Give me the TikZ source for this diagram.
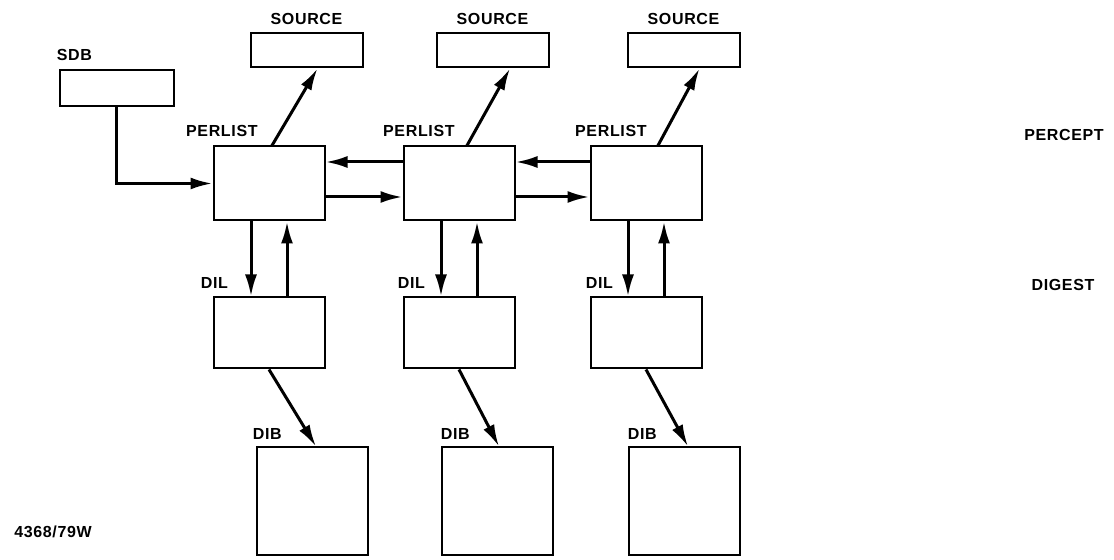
\documentclass[tikz,border=0pt]{standalone}
\usepackage{fontspec}
\setmainfont{Liberation Sans}[LetterSpace=4]
\usetikzlibrary{arrows.meta, positioning}
\tikzset{
  box/.style={rectangle, draw, line width=1pt, inner sep=0pt,
              minimum width=55.5pt, minimum height=37pt},
  srcbox/.style={box, minimum width=56pt, minimum height=17pt},
  dilbox/.style={box, minimum height=35.5pt},
  dibbox/.style={box, minimum width=55.5pt, minimum height=54pt},
  arrow/.style={-{Latex[length=11pt,width=6pt]}, line width=1.5pt},
  lbl/.style={inner sep=0pt, font=\fontsize{8}{9}\selectfont\bfseries},
}

\begin{document}
\begin{tikzpicture}[x=0.5pt, y=-0.5pt]
  \useasboundingbox (0,0) rectangle (1114,560);
  % percept row
  \node[box] (per1) at (269,183.5) {};
  \node[box, right=38.5pt of per1] (per2) {};
  \node[box, right=37pt of per2] (per3) {};
  \node[box, minimum height=18pt, minimum width=57pt] (sdb) at (116.5,88.5) {};
  \node[srcbox, above right=38.5pt and 18.5pt of per1.north west] (src1) {};
  \node[srcbox, above right=38.5pt and 16.5pt of per2.north west] (src2) {};
  \node[srcbox, above right=38.5pt and 18.5pt of per3.north west] (src3) {};
  % digest row
  \node[dilbox, below=37.5pt of per1] (dil1) {};
  \node[dilbox, below=37.5pt of per2] (dil2) {};
  \node[dilbox, below=37.5pt of per3] (dil3) {};
  \node[dibbox, below right=38.5pt and 21.5pt of dil1.south west] (dib1) {};
  \node[dibbox, below right=38.5pt and 19pt of dil2.south west] (dib2) {};
  \node[dibbox, below right=38.5pt and 19pt of dil3.south west] (dib3) {};

  % labels
  \node[lbl, above right=4pt and -1pt of sdb.north west] (sdbl) {SDB};
  \node[lbl, above=3.5pt of src1] (src1l) {SOURCE};
  \node[lbl, above=3.5pt of src2] (src2l) {SOURCE};
  \node[lbl, above=3.5pt of src3] (src3l) {SOURCE};
  \node[lbl, above left=4pt and 5.5pt of per1.north] (per1l) {PERLIST};
  \node[lbl, above left=4pt and 2pt of per2.north] (per2l) {PERLIST};
  \node[lbl, above left=4pt and -0.5pt of per3.north] (per3l) {PERLIST};
  \node[lbl, above right=4pt and -6pt of dil1.north west] (dil1l) {DIL};
  \node[lbl, above right=4pt and -2.5pt of dil2.north west] (dil2l) {DIL};
  \node[lbl, above right=4pt and -2pt of dil3.north west] (dil3l) {DIL};
  \node[lbl, above right=3.5pt and -1.5pt of dib1.north west] (dib1l) {DIB};
  \node[lbl, above right=3.5pt and 0pt of dib2.north west] (dib2l) {DIB};
  \node[lbl, above right=3.5pt and 0pt of dib3.north west] (dib3l) {DIB};
  \node[lbl] (percept) at (1064,135) {PERCEPT};
  \node[lbl] (digest) at (1063,285) {DIGEST};
  \node[lbl] (figno) at (53,532) {4368/79W};

  % connectors
  \draw[arrow] (sdb.south) |- (per1.west);
  \draw[arrow] ([xshift=1.5pt]per1.north) -- ([xshift=5.5pt]src1.south);
  \draw[arrow] ([xshift=4pt]per2.north) -- ([xshift=8.75pt]src2.south);
  \draw[arrow] ([xshift=6pt]per3.north) -- ([xshift=8pt]src3.south);
  \draw[arrow] ([yshift=10.75pt]per2.west) -- ([yshift=10.75pt]per1.east);
  \draw[arrow] ([yshift=-6.75pt]per1.east) -- ([yshift=-6.75pt]per2.west);
  \draw[arrow] ([yshift=10.75pt]per3.west) -- ([yshift=10.75pt]per2.east);
  \draw[arrow] ([yshift=-6.75pt]per2.east) -- ([yshift=-6.75pt]per3.west);
  \draw[arrow] ([xshift=-9pt]per1.south) -- ([xshift=-9pt]dil1.north);
  \draw[arrow] ([xshift=9pt]dil1.north) -- ([xshift=9pt]per1.south);
  \draw[arrow] ([xshift=-9pt]per2.south) -- ([xshift=-9pt]dil2.north);
  \draw[arrow] ([xshift=9pt]dil2.north) -- ([xshift=9pt]per2.south);
  \draw[arrow] ([xshift=-9pt]per3.south) -- ([xshift=-9pt]dil3.north);
  \draw[arrow] ([xshift=9pt]dil3.north) -- ([xshift=9pt]per3.south);
  \draw[arrow] (dil1.south) -- ([xshift=2pt]dib1.north);
  \draw[arrow] (dil2.south) -- ([xshift=1pt]dib2.north);
  \draw[arrow] (dil3.south) -- ([xshift=2pt]dib3.north);
\end{tikzpicture}
\end{document}
